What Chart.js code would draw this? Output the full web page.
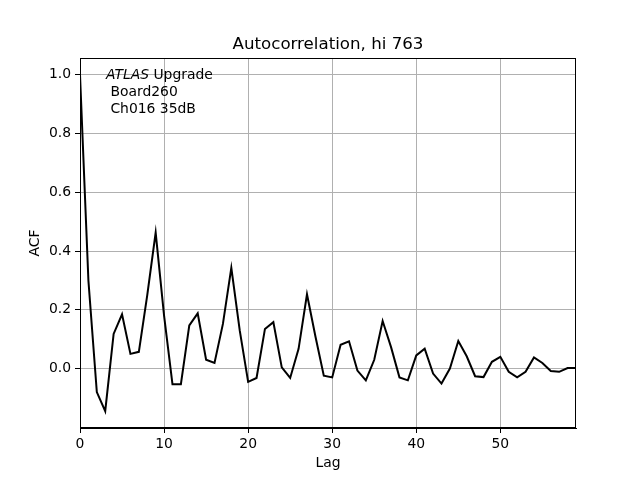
<!DOCTYPE html>
<html>
<head>
<meta charset="utf-8">
<script src="https://cdn.jsdelivr.net/npm/chart.js@4"></script>
<style>
  body { margin: 0; background: #fff; }
  #wrap { width: 640px; height: 480px; }
</style>
</head>
<body>
<div id="wrap"><canvas id="chart" width="640" height="480"></canvas></div>
<script>
const lags = Array.from({length: 60}, (_, i) => i);
const acf = [
  1.0, 0.30, -0.08, -0.145, 0.118, 0.185, 0.05, 0.057, 0.25, 0.463,
  0.18, -0.053, -0.053, 0.147, 0.188, 0.03, 0.019, 0.152, 0.343, 0.13,
  -0.045, -0.032, 0.135, 0.158, 0.004, -0.032, 0.067, 0.253, 0.11, -0.024,
  -0.03, 0.081, 0.093, -0.007, -0.04, 0.03, 0.162, 0.073, -0.03, -0.04,
  0.045, 0.068, -0.017, -0.051, 0.0, 0.094, 0.042, -0.026, -0.029, 0.023,
  0.04, -0.011, -0.03, -0.011, 0.038, 0.019, -0.008, -0.011, 0.002, 0.002
];
const yTicks = [0.0, 0.2, 0.4, 0.6, 0.8, 1.0];
const xTicks = [0, 10, 20, 30, 40, 50];
const titleText = 'Autocorrelation, hi 763';
const noteLines = [' Board260', ' Ch016 35dB'];

const font = 'DejaVu Sans';

const extras = {
  id: 'extras',
  afterDraw(chart) {
    const {ctx, chartArea: a} = chart;
    ctx.save();
    // frame
    ctx.strokeStyle = '#000';
    ctx.lineWidth = 1;
    ctx.strokeRect(a.left + 0.5, a.top + 0.5, a.right - a.left - 1, a.bottom - a.top - 1);
    // title
    ctx.fillStyle = '#000';
    ctx.font = '16.67px "' + font + '"';
    ctx.textAlign = 'center';
    ctx.textBaseline = 'alphabetic';
    ctx.fillText(titleText, (a.left + a.right) / 2, 49);
    // note
    ctx.textAlign = 'left';
    ctx.font = 'italic 13.9px "' + font + '"';
    ctx.fillText('ATLAS', 106, 79);
    const w = ctx.measureText('ATLAS').width;
    ctx.font = '13.9px "' + font + '"';
    ctx.fillText(' Upgrade', 106 + w, 79);
    noteLines.forEach((t, i) => ctx.fillText(t, 106, 96 + i * 16.5));
    ctx.restore();
  }
};

const ctx = document.getElementById('chart');

const chart = new Chart(ctx, {
  type: 'line',
  data: {
    datasets: [{
      data: lags.map((x, i) => ({x: x, y: acf[i]})),
      borderColor: '#000',
      borderWidth: 2,
      pointRadius: 0,
      tension: 0,
      fill: false
    }]
  },
  options: {
    responsive: false,
    animation: false,
    layout: { padding: { top: 58, right: 64, left: 0, bottom: 0 } },
    plugins: { legend: { display: false }, tooltip: { enabled: false } },
    scales: {
      x: {
        type: 'linear',
        min: 0,
        max: 59,
        afterFit: s => { s.height = 52; },
        afterBuildTicks: s => { s.ticks = xTicks.map(v => ({value: v})); },
        grid: { color: '#b0b0b0', lineWidth: 1, tickLength: 5, tickColor: '#000', drawOnChartArea: true },
        border: { color: '#000', width: 1 },
        ticks: { color: '#000', font: { family: font, size: 13.9 }, padding: 3, maxRotation: 0,
                 callback: v => String(v) },
        title: { display: true, text: 'Lag', color: '#000', font: { family: font, size: 13.9 },
                 padding: { bottom: 8 } }
      },
      y: {
        min: -0.2023,
        max: 1.0573,
        afterFit: s => { s.width = 80; },
        afterBuildTicks: s => { s.ticks = yTicks.map(v => ({value: v})); },
        grid: { color: '#b0b0b0', lineWidth: 1, tickLength: 5, tickColor: '#000' },
        border: { color: '#000', width: 1 },
        ticks: { color: '#000', font: { family: font, size: 13.9 }, padding: 4,
                 callback: v => v.toFixed(1) },
        title: { display: true, text: 'ACF', color: '#000', font: { family: font, size: 13.9 },
                 padding: { top: 27 } }
      }
    }
  },
  plugins: [extras]
});
</script>
</body>
</html>
